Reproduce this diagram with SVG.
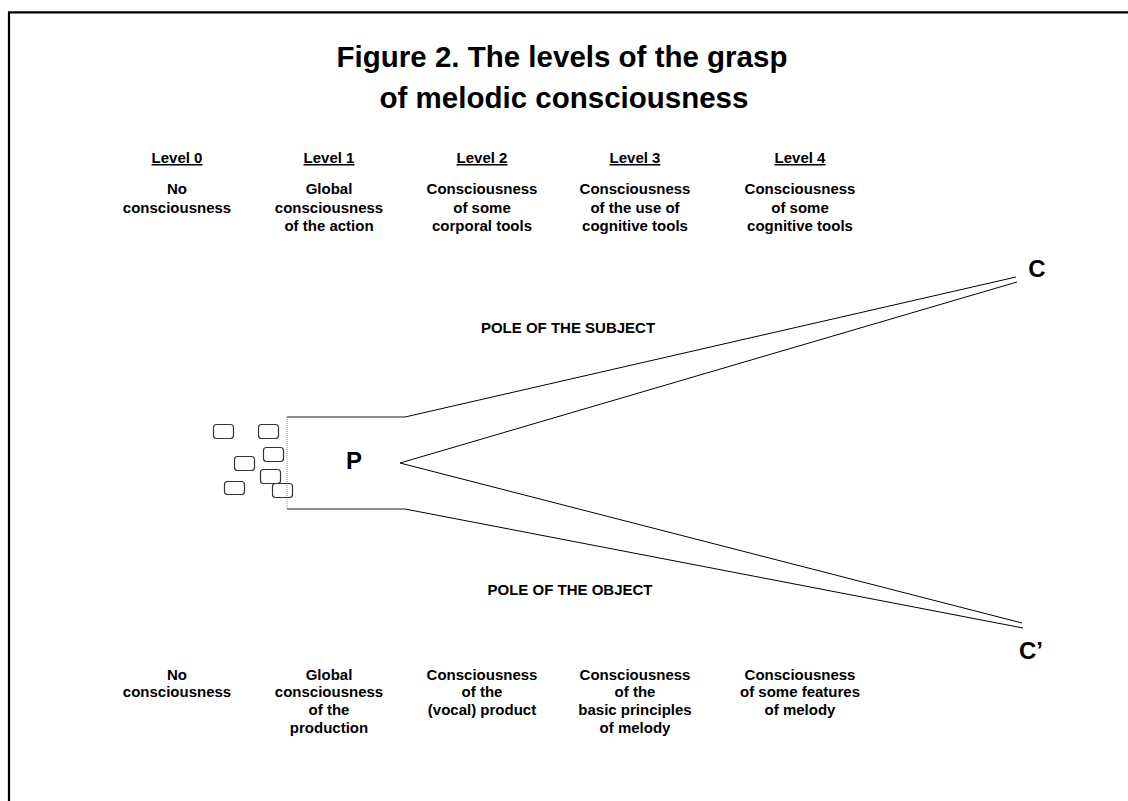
<svg xmlns="http://www.w3.org/2000/svg" width="1128" height="801" viewBox="0 0 1128 801">
<style>
  .t{font-family:"Liberation Sans",Arial,sans-serif;font-weight:bold;fill:#000;text-anchor:middle}
  .title{font-size:29.5px}
  .lv{font-size:15px;text-decoration:underline}
  .b{font-size:15px}
  .pole{font-size:15px}
  .big{font-size:24px}
  .box{fill:none;stroke:#333;stroke-width:1.2}
  .gray{stroke:#666;stroke-width:1.5;fill:none}
  .ln{stroke:#000;stroke-width:1;fill:none}
</style>
<rect x="0" y="0" width="1128" height="801" fill="#fff"/>
<path d="M9,801 V12.3 H1128" fill="none" stroke="#000" stroke-width="2.2"/>
<g id="title">
  <text class="t title" x="562" y="67">Figure 2. The levels of the grasp</text>
  <text class="t title" x="564" y="108">of melodic consciousness</text>
</g>
<g id="level0">
  <text class="t lv" x="177" y="163">Level 0</text>
  <text class="t b" x="177" y="194">No</text>
  <text class="t b" x="177" y="212.5">consciousness</text>
</g>
<g id="level1">
  <text class="t lv" x="329" y="163">Level 1</text>
  <text class="t b" x="329" y="194">Global</text>
  <text class="t b" x="329" y="212.5">consciousness</text>
  <text class="t b" x="329" y="231">of the action</text>
</g>
<g id="level2">
  <text class="t lv" x="482" y="163">Level 2</text>
  <text class="t b" x="482" y="194">Consciousness</text>
  <text class="t b" x="482" y="212.5">of some</text>
  <text class="t b" x="482" y="231">corporal tools</text>
</g>
<g id="level3">
  <text class="t lv" x="635" y="163">Level 3</text>
  <text class="t b" x="635" y="194">Consciousness</text>
  <text class="t b" x="635" y="212.5">of the use of</text>
  <text class="t b" x="635" y="231">cognitive tools</text>
</g>
<g id="level4">
  <text class="t lv" x="800" y="163">Level 4</text>
  <text class="t b" x="800" y="194">Consciousness</text>
  <text class="t b" x="800" y="212.5">of some</text>
  <text class="t b" x="800" y="231">cognitive tools</text>
</g>
<g id="pole-subject"><text class="t pole" x="568" y="333">POLE OF THE SUBJECT</text></g>
<g id="pole-object"><text class="t pole" x="570" y="595">POLE OF THE OBJECT</text></g>
<g id="obj0">
  <text class="t b" x="177" y="679.5">No</text>
  <text class="t b" x="177" y="697.3">consciousness</text>
</g>
<g id="obj1">
  <text class="t b" x="329" y="679.5">Global</text>
  <text class="t b" x="329" y="697.3">consciousness</text>
  <text class="t b" x="329" y="715.1">of the</text>
  <text class="t b" x="329" y="732.9">production</text>
</g>
<g id="obj2">
  <text class="t b" x="482" y="679.5">Consciousness</text>
  <text class="t b" x="482" y="697.3">of the</text>
  <text class="t b" x="482" y="715.1">(vocal) product</text>
</g>
<g id="obj3">
  <text class="t b" x="635" y="679.5">Consciousness</text>
  <text class="t b" x="635" y="697.3">of the</text>
  <text class="t b" x="635" y="715.1">basic principles</text>
  <text class="t b" x="635" y="732.9">of melody</text>
</g>
<g id="obj4">
  <text class="t b" x="800" y="679.5">Consciousness</text>
  <text class="t b" x="800" y="697.3">of some features</text>
  <text class="t b" x="800" y="715.1">of melody</text>
</g>
<g id="P">
  <path class="gray" d="M287,417 H405 M287,509 H405"/>
  <path d="M287,417 V509" stroke="#888" stroke-width="1" stroke-dasharray="1,1" fill="none"/>
  <text class="t big" x="354" y="469">P</text>
</g>
<g id="C"><text class="t big" x="1037" y="277">C</text></g>
<g id="Cprime"><text class="t big" x="1031" y="659">C’</text></g>
<g id="items">
  <rect class="box" x="213.5" y="424.5" width="20" height="14" rx="3"/>
  <rect class="box" x="258.5" y="424.5" width="20" height="14" rx="3"/>
  <rect class="box" x="263.5" y="447.5" width="20" height="14" rx="3"/>
  <rect class="box" x="234.5" y="456.5" width="20" height="14" rx="3"/>
  <rect class="box" x="260.5" y="469.5" width="20" height="14" rx="3"/>
  <rect class="box" x="224.5" y="481.5" width="20" height="13" rx="3"/>
  <rect class="box" x="272.5" y="483.5" width="20" height="14" rx="3"/>
</g>
<g id="connectors">
  <path class="ln" d="M405,417 L1016,277"/>
  <path class="ln" d="M1017,282 L400,463 L1022,623"/>
  <path class="ln" d="M405,509 L1023,628"/>
</g>
</svg>
